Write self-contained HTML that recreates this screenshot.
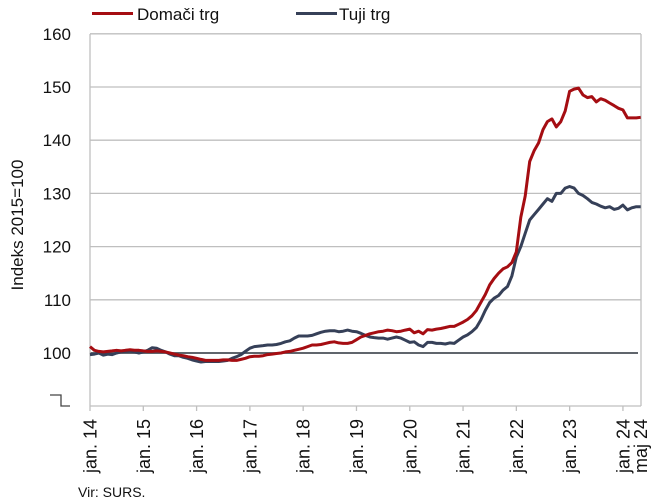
<!DOCTYPE html>
<html><head><meta charset="utf-8"><style>
body{margin:0;background:#fff;}
svg{display:block;font-family:"Liberation Sans",sans-serif;}
</style></head><body>
<svg id="chart" width="656" height="504" viewBox="0 0 656 504">
<g id="grid"></g>
<g id="axes"></g>
<g id="series"></g>
<g>
 <line x1="92" y1="13.5" x2="133" y2="13.5" stroke="#a50d12" stroke-width="3"/>
 <text x="137" y="20" font-size="17" fill="#111">Domači trg</text>
 <line x1="296" y1="13.5" x2="337" y2="13.5" stroke="#364058" stroke-width="3"/>
 <text x="339" y="20" font-size="17" fill="#111">Tuji trg</text>
</g>
<text transform="translate(23,225) rotate(-90)" text-anchor="middle" font-size="17" fill="#111">Indeks 2015=100</text>
<text x="78" y="497" font-size="14" fill="#111">Vir: SURS.</text>
</svg>
<script>
const yTicks=[160,150,140,130,120,110,100];
const xLabels=["jan. 14","jan. 15","jan. 16","jan. 17","jan. 18","jan. 19","jan. 20","jan. 21","jan. 22","jan. 23","jan. 24","maj 24"];
const xLabelMonths=[0,12,24,36,48,60,72,84,96,108,120,124];
const domestic=[101.2,100.5,100.3,100.2,100.3,100.4,100.5,100.4,100.5,100.6,100.5,100.5,
100.4,100.3,100.3,100.4,100.3,100.2,100.0,99.8,99.6,99.5,99.3,99.2,
99.0,98.8,98.6,98.6,98.6,98.6,98.7,98.7,98.6,98.6,98.8,99.0,
99.3,99.4,99.4,99.5,99.7,99.8,99.9,100.0,100.2,100.3,100.5,100.7,
100.9,101.2,101.5,101.5,101.6,101.8,102.0,102.1,101.9,101.8,101.8,102.0,
102.5,103.0,103.3,103.6,103.8,104.0,104.1,104.3,104.2,104.0,104.1,104.3,
104.5,103.8,104.1,103.6,104.4,104.3,104.5,104.6,104.8,105.0,105.0,105.4,
105.8,106.3,107.0,108.0,109.5,111.0,112.8,114.0,115.0,115.8,116.2,117.0,
119.0,125.5,129.5,136.0,138.0,139.5,142.0,143.5,144.0,142.5,143.5,145.5,
149.2,149.6,149.8,148.5,148.0,148.2,147.2,147.8,147.5,147.0,146.5,146.0,
145.7,144.2,144.2,144.2,144.3];
const foreign=[99.7,99.8,100.0,99.6,99.8,99.7,100.0,100.2,100.3,100.4,100.2,100.0,
100.2,100.5,101.0,100.9,100.5,100.2,99.8,99.5,99.5,99.2,99.0,98.7,
98.5,98.3,98.4,98.4,98.4,98.4,98.5,98.6,99.0,99.3,99.7,100.3,
100.9,101.2,101.3,101.4,101.5,101.5,101.6,101.8,102.1,102.3,102.8,103.2,
103.2,103.2,103.3,103.6,103.9,104.1,104.2,104.2,104.0,104.1,104.3,104.1,
104.0,103.7,103.3,103.0,102.9,102.8,102.8,102.6,102.8,103.0,102.8,102.4,
102.0,102.1,101.5,101.2,102.0,102.0,101.8,101.8,101.7,101.9,101.8,102.4,
103.0,103.4,104.0,104.8,106.2,108.0,109.5,110.3,110.8,111.8,112.5,114.5,
118.0,120.0,122.5,125.0,126.0,127.0,128.0,129.0,128.5,130.0,130.0,131.0,
131.3,131.0,130.0,129.6,129.0,128.3,128.0,127.6,127.3,127.5,127.0,127.2,
127.8,126.9,127.3,127.5,127.5];
const NS="http://www.w3.org/2000/svg";
const X0=90,X1=640.7,M=124,Y0=353,PX=5.32;
const xs=m=>X0+(X1-X0)*m/M;
const ys=v=>Y0-(v-100)*PX;
function mk(tag,attrs,parent){const e=document.createElementNS(NS,tag);for(const k in attrs)e.setAttribute(k,attrs[k]);parent.appendChild(e);return e;}
const grid=document.getElementById('grid'),axes=document.getElementById('axes'),ser=document.getElementById('series');
yTicks.forEach(t=>{
 if(t!==100){const l=mk('line',{x1:X0,x2:641,y1:ys(t),y2:ys(t),stroke:'#bfbfbf','stroke-width':1.3},grid);
 
 }
 const tx=mk('text',{x:71,y:ys(t)+6,'text-anchor':'end','font-size':17,fill:'#111'},axes);
 tx.textContent=t;
 
 
});
const base=mk('line',{x1:X0,x2:638,y1:ys(100),y2:ys(100),stroke:'#4a4f57','stroke-width':1.8},grid);


const la=mk('line',{x1:X0,x2:X0,y1:34,y2:406,stroke:'#bfbfbf','stroke-width':1.3},axes);


const ra=mk('line',{x1:641,x2:641,y1:34,y2:406,stroke:'#bfbfbf','stroke-width':1.3},axes);


const ba=mk('line',{x1:X0,x2:641,y1:406,y2:406,stroke:'#bfbfbf','stroke-width':1.3},axes);


const br=mk('path',{d:'M50 395 H61 V406 H70',fill:'none',stroke:'#444','stroke-width':1.3},axes);


xLabels.forEach((lab,i)=>{
 const x=xs(xLabelMonths[i]);
 if(i<xLabels.length-1){const tk=mk('line',{x1:x,x2:x,y1:406,y2:411,stroke:'#bfbfbf','stroke-width':1.3},axes);
 
 }
 const t=mk('text',{transform:`translate(${x+6.5},419) rotate(-90)`,'text-anchor':'end','font-size':18,fill:'#111'},axes);
 t.textContent=lab;
 
 
});
function line(data,color,name){
 const d=data.map((v,i)=>(i?'L':'M')+xs(i).toFixed(1)+' '+ys(v).toFixed(1)).join(' ');
 const p=mk('path',{d:d,fill:'none',stroke:color,'stroke-width':3,'stroke-linejoin':'round'},ser);
 
 
}
line(foreign,'#364058','foreign-market-line');
line(domestic,'#a50d12','domestic-market-line');
</script>
</body></html>
